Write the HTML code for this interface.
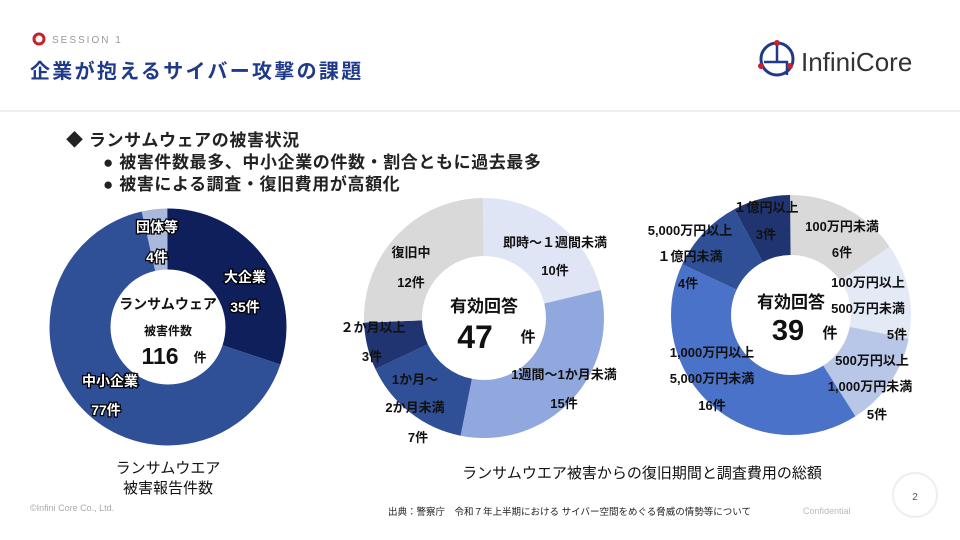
<!DOCTYPE html>
<html><head><meta charset="utf-8"><style>
body{margin:0;width:960px;height:540px;background:#fff;overflow:hidden;font-family:"Liberation Sans","Noto Sans CJK JP",sans-serif}
svg{position:absolute;left:0;top:0}
</style></head><body>
<svg width="960" height="540" viewBox="0 0 960 540" font-family="'Liberation Sans','Noto Sans CJK JP',sans-serif">
<circle cx="39" cy="39" r="5" fill="none" stroke="#c8202e" stroke-width="3"/>
<text x="52" y="43" font-size="10" fill="#999" letter-spacing="2">SESSION 1</text>
<text x="30" y="78" font-size="20" font-weight="bold" fill="#1f3a8a" letter-spacing="2.3">企業が抱えるサイバー攻撃の課題</text>
<g>
<circle cx="777" cy="59" r="16" fill="none" stroke="#1f3a8a" stroke-width="3"/>
<path d="M777 43 V62 H764 M777 62 H787 V75" fill="none" stroke="#1f3a8a" stroke-width="2.5"/>
<circle cx="777" cy="43" r="3" fill="#c8202e"/><circle cx="761" cy="66" r="3" fill="#c8202e"/><circle cx="790" cy="66" r="3" fill="#c8202e"/>
<text x="801" y="71" font-size="26" fill="#333">InfiniCore</text>
</g>
<line x1="0" y1="111" x2="960" y2="111" stroke="#ddd" stroke-width="1"/>
<g font-size="17" font-weight="bold" fill="#222" letter-spacing="0.6">
<text x="66" y="146">◆ ランサムウェアの被害状況</text>
<text x="103" y="168">●  被害件数最多、中小企業の件数・割合ともに過去最多</text>
<text x="103" y="190">●  被害による調査・復旧費用が高額化</text>
</g>
<!-- chart 1 -->
<g transform="rotate(-90 168 327)" fill="none" stroke-width="61">
<circle cx="168" cy="327" r="88" pathLength="116" stroke="#0f1f5c" stroke-dasharray="35 81"/>
<circle cx="168" cy="327" r="88" pathLength="116" stroke="#2f4f96" stroke-dasharray="0 35 77 4"/>
<circle cx="168" cy="327" r="88" pathLength="116" stroke="#a9b8dc" stroke-dasharray="0 112 4 0"/>
</g>
<g font-size="14" font-weight="bold" text-anchor="middle" fill="#fff" stroke="#000" stroke-width="2.5" paint-order="stroke">
<text x="245" y="282">大企業</text>
<text x="245" y="312">35件</text>
<text x="110" y="386">中小企業</text>
<text x="106" y="415">77件</text>
<text x="157" y="232">団体等</text>
<text x="157" y="262">4件</text>
</g>
<g text-anchor="middle" font-weight="bold" fill="#111">
<text x="168" y="309" font-size="14">ランサムウェア</text>
<text x="168" y="335" font-size="12">被害件数</text>
<text x="160" y="364" font-size="23">116</text><text x="200" y="362" font-size="13">件</text>
<text x="168" y="473" font-size="15" font-weight="normal">ランサムウエア</text>
<text x="168" y="493" font-size="15" font-weight="normal">被害報告件数</text>
</g>
<!-- chart 2 -->
<g transform="rotate(-90 484 318)" fill="none" stroke-width="58">
<circle cx="484" cy="318" r="91" pathLength="47" stroke="#dfe5f5" stroke-dasharray="10 37"/>
<circle cx="484" cy="318" r="91" pathLength="47" stroke="#91a8de" stroke-dasharray="0 10 15 22"/>
<circle cx="484" cy="318" r="91" pathLength="47" stroke="#2f4f96" stroke-dasharray="0 25 7 15"/>
<circle cx="484" cy="318" r="91" pathLength="47" stroke="#1f3470" stroke-dasharray="0 32 3 12"/>
<circle cx="484" cy="318" r="91" pathLength="47" stroke="#d9d9d9" stroke-dasharray="0 35 12 0"/>
</g>
<g font-size="13" font-weight="bold" fill="#111" text-anchor="middle">
<text x="555" y="247">即時～１週間未満</text><text x="555" y="275">10件</text>
<text x="411" y="257">復旧中</text><text x="411" y="287">12件</text>
<text x="373" y="332">２か月以上</text><text x="372" y="361">3件</text>
<text x="415" y="384">1か月～</text><text x="415" y="412">2か月未満</text><text x="418" y="442">7件</text>
<text x="564" y="379">1週間～1か月未満</text><text x="564" y="408">15件</text>
<text x="484" y="312" font-size="17">有効回答</text>
<text x="475" y="348" font-size="32">47</text><text x="528" y="342" font-size="15">件</text>
<text x="642" y="478" font-size="15" font-weight="normal">ランサムウエア被害からの復旧期間と調査費用の総額</text>
</g>
<!-- chart 3 -->
<g transform="rotate(-90 791 315)" fill="none" stroke-width="60">
<circle cx="791" cy="315" r="90" pathLength="39" stroke="#d9d9d9" stroke-dasharray="6 33"/>
<circle cx="791" cy="315" r="90" pathLength="39" stroke="#e4e9f6" stroke-dasharray="0 6 5 28"/>
<circle cx="791" cy="315" r="90" pathLength="39" stroke="#b8c6e8" stroke-dasharray="0 11 5 23"/>
<circle cx="791" cy="315" r="90" pathLength="39" stroke="#4a72c8" stroke-dasharray="0 16 16 7"/>
<circle cx="791" cy="315" r="90" pathLength="39" stroke="#2f4f96" stroke-dasharray="0 32 4 3"/>
<circle cx="791" cy="315" r="90" pathLength="39" stroke="#1f3470" stroke-dasharray="0 36 3 0"/>
</g>
<g font-size="13" font-weight="bold" fill="#111" text-anchor="middle">
<text x="842" y="231">100万円未満</text><text x="842" y="257">6件</text>
<text x="868" y="287">100万円以上</text><text x="868" y="313">500万円未満</text><text x="897" y="339">5件</text>
<text x="872" y="365">500万円以上</text><text x="870" y="391">1,000万円未満</text><text x="877" y="419">5件</text>
<text x="766" y="212">１億円以上</text><text x="766" y="239">3件</text>
<text x="690" y="235">5,000万円以上</text><text x="690" y="261">１億円未満</text><text x="688" y="288">4件</text>
<text x="712" y="357">1,000万円以上</text><text x="712" y="383">5,000万円未満</text><text x="712" y="410">16件</text>
<text x="791" y="308" font-size="17">有効回答</text>
<text x="788" y="340" font-size="29">39</text><text x="830" y="338" font-size="15">件</text>
</g>
<circle cx="915" cy="495" r="22" fill="none" stroke="#eee" stroke-width="2"/>
<text x="915" y="500" font-size="10" fill="#555" text-anchor="middle">2</text>
<text x="30" y="511" font-size="9" fill="#aaa">©Infini Core Co., Ltd.</text>
<text x="388" y="515" font-size="9.5" fill="#222">出典：警察庁　令和７年上半期における サイバー空間をめぐる脅威の情勢等について</text>
<text x="803" y="514" font-size="9" fill="#bbb">Confidential</text>
</svg>
</body></html>
